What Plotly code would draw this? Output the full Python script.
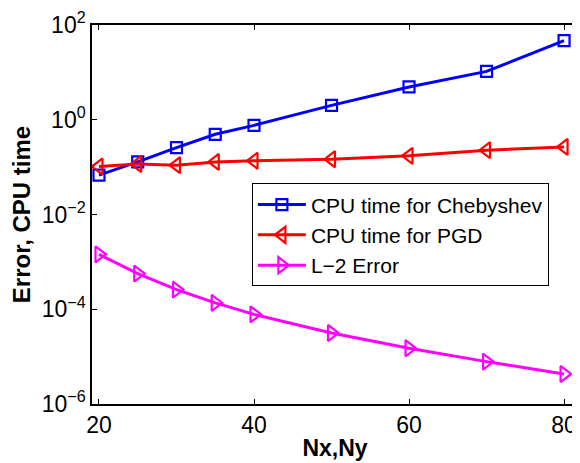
import plotly.graph_objects as go

nx = [20, 25, 30, 35, 40, 50, 60, 70, 80]
cpu_cheb = [0.068, 0.129, 0.258, 0.493, 0.762, 2.01, 4.93, 10.5, 46.6]
cpu_pgd = [0.103, 0.116, 0.110, 0.129, 0.136, 0.147, 0.173, 0.228, 0.267]
l2_err = [1.44e-3, 5.65e-4, 2.6e-4, 1.36e-4, 7.8e-5, 3.15e-5, 1.5e-5, 7.85e-6, 4.3e-6]

y_tickvals = [1e-6, 1e-4, 1e-2, 1, 100]
y_ticktext = ["10<sup>\u22126</sup>", "10<sup>\u22124</sup>", "10<sup>\u22122</sup>", "10<sup>0</sup>", "10<sup>2</sup>"]
x_tickvals = [20, 40, 60, 80]

FONT = "Liberation Sans, Arial, Helvetica, sans-serif"

fig = go.Figure()
fig.add_trace(go.Scatter(
    x=nx, y=cpu_cheb, mode="lines+markers", name="CPU time for Chebyshev",
    line=dict(color="#0000ff", width=3),
    marker=dict(symbol="square-open", size=11, color="#0000ff", line=dict(width=2.2, color="#0000ff")),
))
fig.add_trace(go.Scatter(
    x=nx, y=cpu_pgd, mode="lines+markers", name="CPU time for PGD",
    line=dict(color="#ff0000", width=3),
    marker=dict(symbol="triangle-left-open", size=14, color="#ff0000", line=dict(width=2.2, color="#ff0000")),
))
fig.add_trace(go.Scatter(
    x=nx, y=l2_err, mode="lines+markers", name="L\u22122 Error",
    line=dict(color="#ff00ff", width=3),
    marker=dict(symbol="triangle-right-open", size=14, color="#ff00ff", line=dict(width=2.2, color="#ff00ff")),
))

# page body has an 8px default margin; figure is sized so the plot area lands where the reference has it
fig.update_layout(
    width=572, height=455,
    margin=dict(l=84, r=0, t=15, b=59),
    paper_bgcolor="white", plot_bgcolor="white",
    font=dict(family=FONT, size=21, color="black"),
    showlegend=True,
    legend=dict(
        x=0.329, y=0.582, xanchor="left", yanchor="top",
        bgcolor="white", bordercolor="black", borderwidth=1,
        font=dict(family=FONT, size=21, color="black"),
        tracegroupgap=0, itemwidth=48,
    ),
)
fig.update_xaxes(
    range=[19.1, 81.8], tickvals=x_tickvals, ticktext=[str(v) for v in x_tickvals],
    ticks="inside", ticklen=5, tickwidth=1, tickcolor="black",
    showline=True, linecolor="black", linewidth=1.5, mirror="ticks",
    showgrid=False, zeroline=False, ticklabeloverflow="allow",
    tickfont=dict(family=FONT, size=23, color="black"),
    title=dict(text="<b>Nx,Ny</b>", font=dict(family=FONT, size=23, color="black"), standoff=3),
)
fig.update_yaxes(
    type="log", range=[-6, 2], tickvals=y_tickvals, ticktext=y_ticktext,
    ticks="inside", ticklen=5, tickwidth=1, tickcolor="black",
    showline=True, linecolor="black", linewidth=1.5, mirror="ticks",
    showgrid=False, zeroline=False, ticklabeloverflow="allow",
    tickfont=dict(family=FONT, size=23, color="black"),
    title=dict(text="<b>Error, CPU time</b>", font=dict(family=FONT, size=24, color="black"), standoff=6),
)

fig.write_html("out.html")
